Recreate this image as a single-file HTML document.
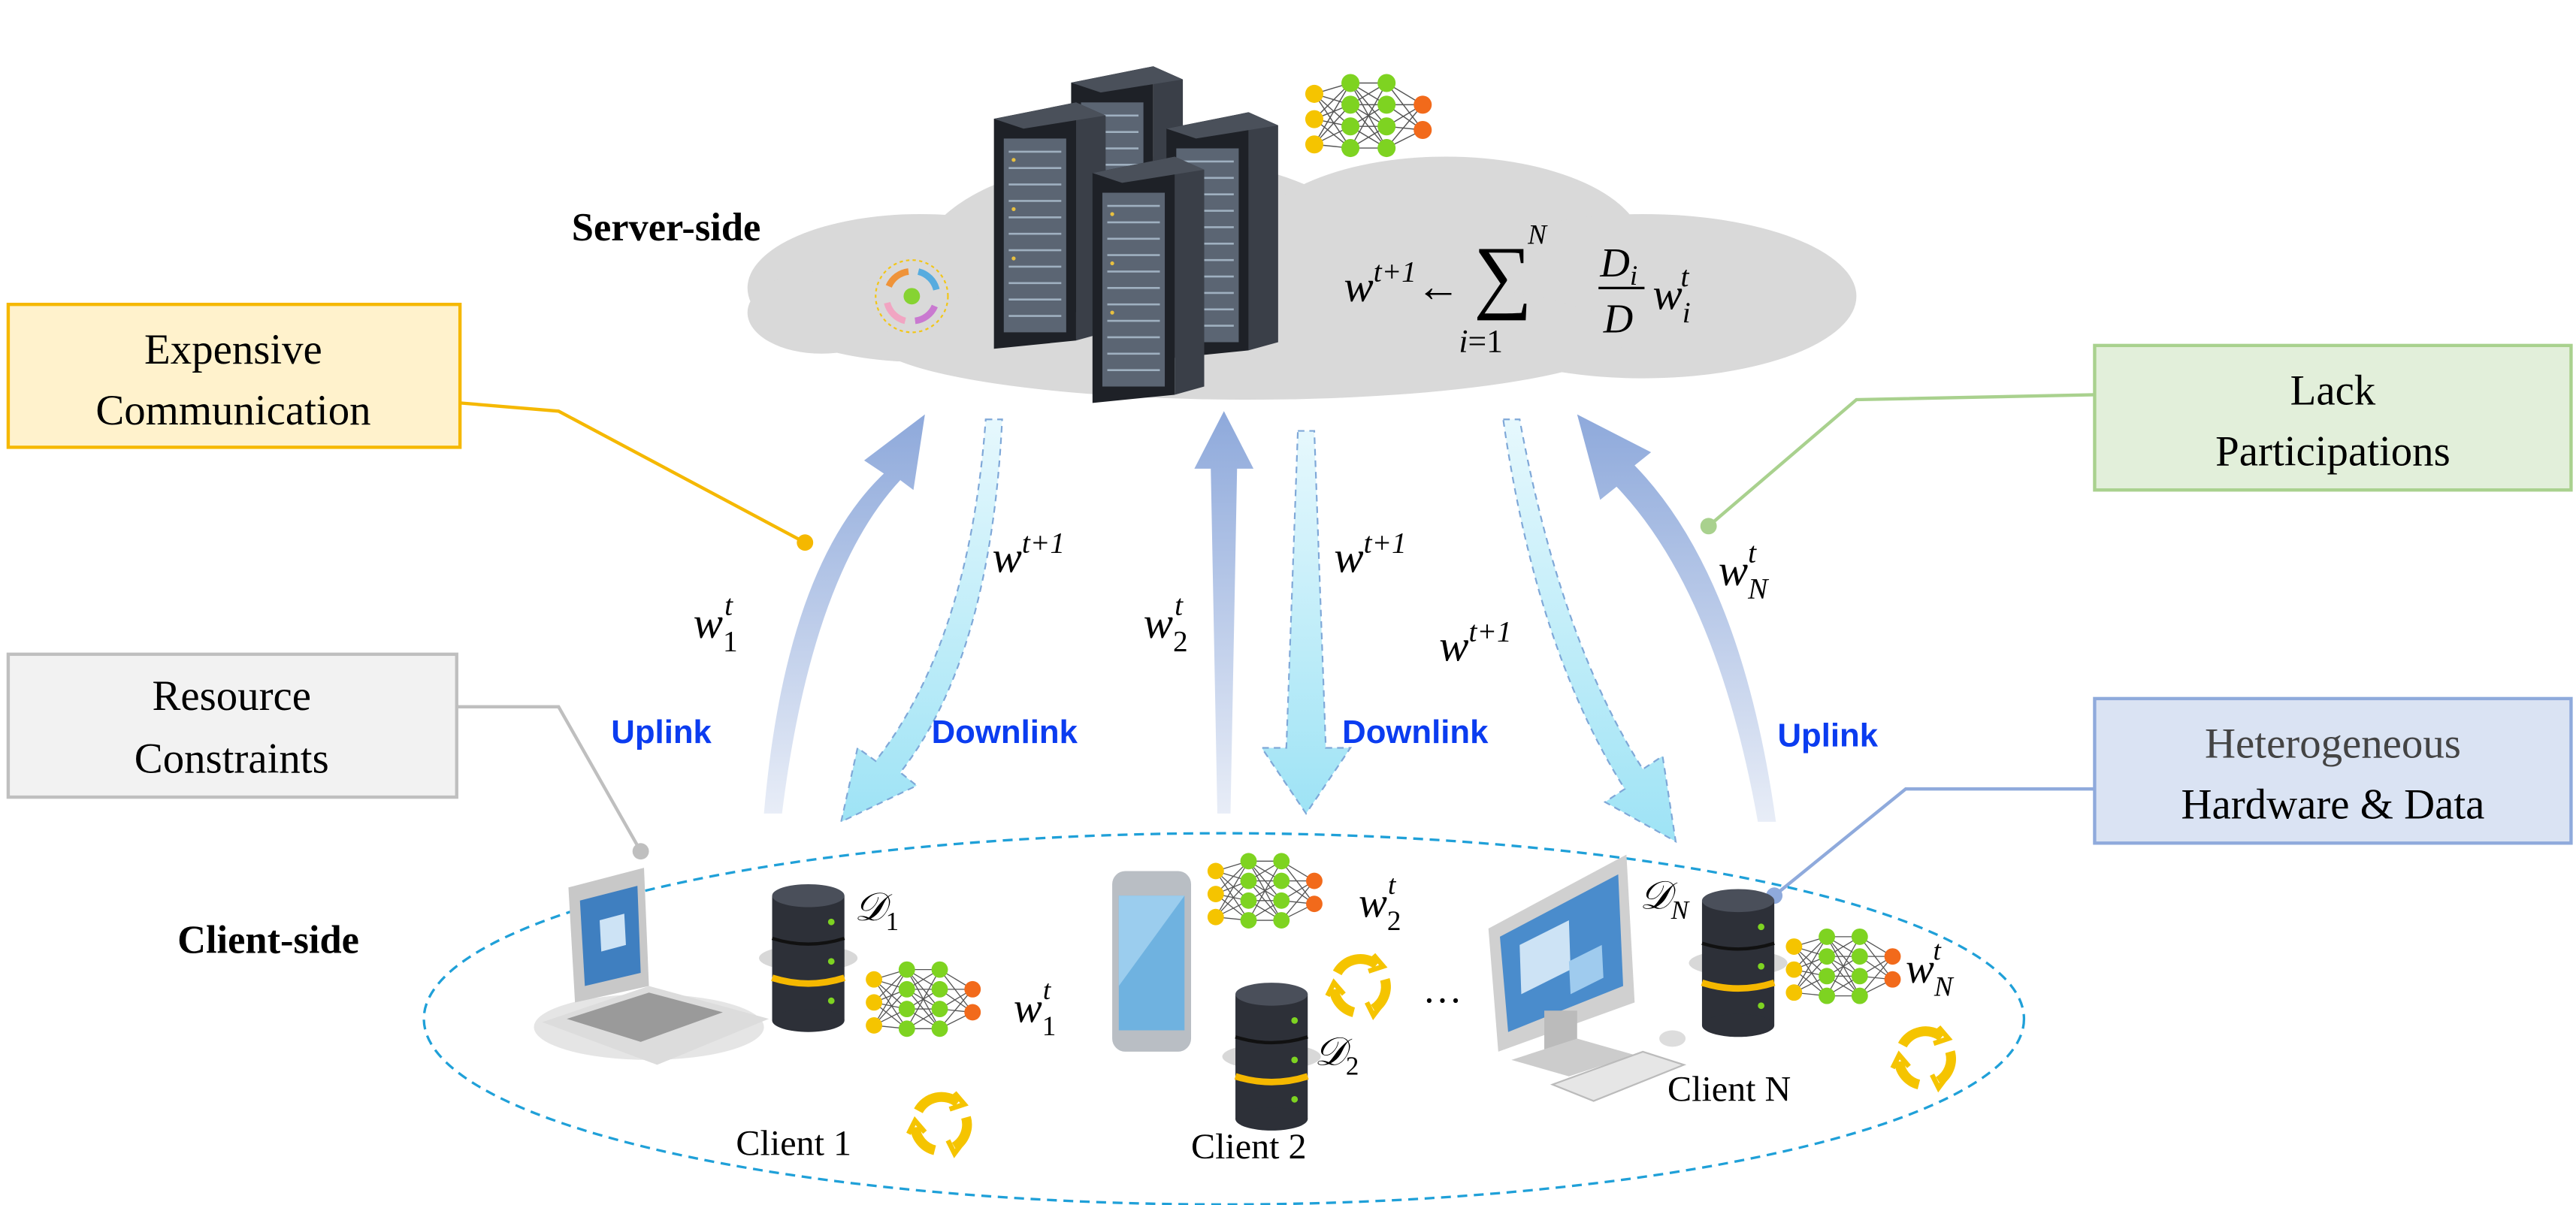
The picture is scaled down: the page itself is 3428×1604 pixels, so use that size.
<!DOCTYPE html>
<html><head><meta charset="utf-8"><style>
html,body{margin:0;padding:0;background:#fff;}
svg{display:block;}
.serif{font-family:"Liberation Serif",serif;}
.sans{font-family:"Liberation Sans",sans-serif;}
</style></head><body>
<svg width="3428" height="1604" viewBox="0 0 1568 733" xmlns="http://www.w3.org/2000/svg">
<defs>
<g id="nn">
  <g stroke="#555" stroke-width="0.6">
    <path d="M0,8 L20,2 M0,8 L20,14 M0,8 L20,26 M0,8 L20,38 M0,22 L20,2 M0,22 L20,14 M0,22 L20,26 M0,22 L20,38 M0,36 L20,2 M0,36 L20,14 M0,36 L20,26 M0,36 L20,38"/>
    <path d="M20,2 L40,2 M20,2 L40,14 M20,2 L40,26 M20,14 L40,2 M20,14 L40,14 M20,14 L40,26 M20,14 L40,38 M20,26 L40,14 M20,26 L40,26 M20,26 L40,38 M20,38 L40,26 M20,38 L40,38 M20,2 L40,38 M20,38 L40,2"/>
    <path d="M40,2 L60,14 M40,14 L60,14 M40,26 L60,14 M40,38 L60,14 M40,2 L60,28 M40,14 L60,28 M40,26 L60,28 M40,38 L60,28"/>
  </g>
  <g fill="#f5c400"><circle cx="0" cy="8" r="5"/><circle cx="0" cy="22" r="5"/><circle cx="0" cy="36" r="5"/></g>
  <g fill="#7ed321"><circle cx="20" cy="2" r="5"/><circle cx="20" cy="14" r="5"/><circle cx="20" cy="26" r="5"/><circle cx="20" cy="38" r="5"/>
  <circle cx="40" cy="2" r="5"/><circle cx="40" cy="14" r="5"/><circle cx="40" cy="26" r="5"/><circle cx="40" cy="38" r="5"/></g>
  <g fill="#f26a1b"><circle cx="60" cy="14" r="5"/><circle cx="60" cy="28" r="5"/></g>
</g>
<g id="db">
  <ellipse cx="0" cy="38" rx="30" ry="8" fill="#d8d8d8"/>
  <rect x="-22" y="0" width="44" height="76" fill="#2d3038"/>
  <ellipse cx="0" cy="0" rx="22" ry="7" fill="#4a4f5a"/>
  <path d="M-22,26 Q0,33 22,26" stroke="#111" stroke-width="2" fill="none"/>
  <path d="M-22,50 Q0,57 22,50" stroke="#f5b800" stroke-width="4" fill="none"/>
  <ellipse cx="0" cy="76" rx="22" ry="7" fill="#2d3038"/>
  <circle cx="14" cy="16" r="2" fill="#7ed321"/><circle cx="14" cy="40" r="2" fill="#7ed321"/><circle cx="14" cy="64" r="2" fill="#7ed321"/>
</g>
<g id="cyc" fill="none" stroke="#f5c400" stroke-width="6">
  <path d="M-14,-8 A16,16 0 0 1 10,-13"/><path d="M15,-4 A16,16 0 0 1 8,14"/><path d="M-4,16 A16,16 0 0 1 -16,2"/>
  <path d="M8,-19 L14,-12 L5,-9" stroke-width="3"/><path d="M14,10 L8,18 L4,10" stroke-width="3"/><path d="M-20,6 L-16,-2 L-10,5" stroke-width="3"/>
</g>
<g id="rack">
  <path d="M0,10 L50,0 L50,145 L0,150 Z" fill="#1e2127"/>
  <path d="M50,0 L68,8 L68,140 L50,145 Z" fill="#3a3f48"/>
  <path d="M0,10 L50,0 L68,8 L18,16 Z" fill="#4a505a"/>
  <rect x="6" y="22" width="38" height="118" fill="#5b6573"/>
  <g stroke="#9fb0c0" stroke-width="1.2"><path d="M9,30 H41 M9,40 H41 M9,50 H41 M9,60 H41 M9,70 H41 M9,80 H41 M9,90 H41 M9,100 H41 M9,110 H41 M9,120 H41 M9,130 H41"/></g>
  <g fill="#e8c040"><circle cx="12" cy="35" r="1.2"/><circle cx="12" cy="65" r="1.2"/><circle cx="12" cy="95" r="1.2"/></g>
</g>
</defs>

<!-- cloud -->
<g fill="#d9d9d9">
<ellipse cx="560" cy="175" rx="105" ry="45"/>
<ellipse cx="700" cy="160" rx="140" ry="65"/>
<ellipse cx="880" cy="150" rx="120" ry="55"/>
<ellipse cx="1000" cy="180" rx="130" ry="50"/>
<ellipse cx="760" cy="205" rx="230" ry="38"/>
<ellipse cx="500" cy="190" rx="45" ry="25"/>
</g>
<g transform="translate(555,180)" opacity="0.9">
<circle r="22" fill="none" stroke="#f5c400" stroke-dasharray="2,2"/>
<path d="M-14,-6 A15,15 0 0 1 -2,-15" stroke="#f28c28" stroke-width="4" fill="none"/>
<path d="M4,-15 A15,15 0 0 1 15,-4" stroke="#4aa8e0" stroke-width="4" fill="none"/>
<path d="M14,6 A15,15 0 0 1 2,15" stroke="#c86fd0" stroke-width="4" fill="none"/>
<path d="M-4,15 A15,15 0 0 1 -15,4" stroke="#f4a0c0" stroke-width="4" fill="none"/>
<circle r="5" fill="#7ed321"/>
</g>
<!-- racks -->
<use href="#rack" x="652" y="40"/>
<use href="#rack" x="710" y="68"/>
<use href="#rack" x="605" y="62"/>
<use href="#rack" x="665" y="95"/>
<use href="#nn" transform="translate(800,48) scale(1.1)"/>

<text x="348" y="146" class="serif" font-size="24" font-weight="bold">Server-side</text>
<text x="818" y="183" class="serif" font-size="27" font-style="italic">w<tspan font-size="18" dy="-12">t+1</tspan></text>
<text x="862" y="183" class="serif" font-size="27">←</text>
<text x="897" y="184" class="serif" font-size="50">∑</text>
<text x="930" y="148" class="serif" font-size="17" font-style="italic">N</text>
<text x="888" y="214" class="serif" font-size="20" font-style="italic">i<tspan font-style="normal">=1</tspan></text>
<text x="974" y="168" class="serif" font-size="25" font-style="italic">D<tspan font-size="17" dy="5">i</tspan></text>
<line x1="973" y1="175" x2="1001" y2="175" stroke="#000" stroke-width="1.5"/>
<text x="976" y="202" class="serif" font-size="25" font-style="italic">D</text>
<text x="1006" y="188" class="serif" font-size="27" font-style="italic">w<tspan font-size="18" dy="8">i</tspan><tspan font-size="18" dx="-6" dy="-22">t</tspan></text>

<!-- boxes -->
<rect x="5" y="185" width="275" height="87" fill="#fff2cc" stroke="#f5b800" stroke-width="2"/>
<text x="142" y="221" class="serif" font-size="26" text-anchor="middle">Expensive</text>
<text x="142" y="258" class="serif" font-size="26" text-anchor="middle">Communication</text>
<rect x="1275" y="210" width="290" height="88" fill="#e2efda" stroke="#a9d18e" stroke-width="2"/>
<text x="1420" y="246" class="serif" font-size="26" text-anchor="middle">Lack</text>
<text x="1420" y="283" class="serif" font-size="26" text-anchor="middle">Participations</text>
<rect x="5" y="398" width="273" height="87" fill="#f2f2f2" stroke="#bfbfbf" stroke-width="2"/>
<text x="141" y="432" class="serif" font-size="26" text-anchor="middle">Resource</text>
<text x="141" y="470" class="serif" font-size="26" text-anchor="middle">Constraints</text>
<rect x="1275" y="425" width="290" height="88" fill="#dae3f3" stroke="#8faadc" stroke-width="2"/>
<text x="1420" y="461" class="serif" font-size="26" text-anchor="middle" fill="#444">Heterogeneous</text>
<text x="1420" y="498" class="serif" font-size="26" text-anchor="middle">Hardware &amp; Data</text>

<!-- leader lines -->
<polyline points="280,245 340,250 490,330" fill="none" stroke="#f5b800" stroke-width="2"/><circle cx="490" cy="330" r="5" fill="#f5b800"/>
<polyline points="1275,240 1130,243 1040,320" fill="none" stroke="#a9d18e" stroke-width="2"/><circle cx="1040" cy="320" r="5" fill="#a9d18e"/>
<polyline points="278,430 340,430 390,518" fill="none" stroke="#bfbfbf" stroke-width="2"/><circle cx="390" cy="518" r="5" fill="#bfbfbf"/>
<polyline points="1275,480 1160,480 1080,545" fill="none" stroke="#8faadc" stroke-width="2"/><circle cx="1080" cy="545" r="5" fill="#8faadc"/>

<!-- ellipse -->
<ellipse cx="745" cy="620" rx="487" ry="113" fill="none" stroke="#1fa0d8" stroke-width="1.5" stroke-dasharray="6,4"/>

<!-- arrows -->
<defs>
<linearGradient id="up" x1="0" y1="1" x2="0" y2="0"><stop offset="0" stop-color="#e8edf7"/><stop offset="1" stop-color="#8ea9db"/></linearGradient>
<linearGradient id="dn" x1="0" y1="0" x2="0" y2="1"><stop offset="0" stop-color="#e6f8fd"/><stop offset="1" stop-color="#9ee3f5"/></linearGradient>
</defs>
<path d="M465,495 Q478,345 538,288 L526,280 L563,252 L556,298 L548,292 Q494,350 476,495 Z" fill="url(#up)"/>
<path d="M600,255 L610,255 Q603,400 548,470 L558,478 L512,500 L522,455 L533,463 Q590,390 600,255 Z" fill="url(#dn)" stroke="#7fa8d8" stroke-dasharray="4,3"/>
<path d="M741,495 L737,285 L727,285 L745,250 L763,285 L753,285 L749,495 Z" fill="url(#up)"/>
<path d="M790,262 L800,262 L807,455 L822,455 L795,495 L768,455 L783,455 Z" fill="url(#dn)" stroke="#7fa8d8" stroke-dasharray="4,3"/>
<path d="M915,255 L925,255 Q950,390 1000,468 L1012,460 L1020,512 L977,488 L989,480 Q935,395 915,255 Z" fill="url(#dn)" stroke="#7fa8d8" stroke-dasharray="4,3"/>
<path d="M1070,500 Q1045,360 984,296 L974,304 L960,252 L1005,275 L995,283 Q1060,350 1081,500 Z" fill="url(#up)"/>

<g class="sans" font-size="20" font-weight="bold" fill="#0b3cf0">
<text x="372" y="452">Uplink</text><text x="567" y="452">Downlink</text><text x="817" y="452">Downlink</text><text x="1082" y="454">Uplink</text>
</g>
<g class="serif" font-size="27" font-style="italic">
<text x="422" y="388">w<tspan font-size="18" dy="8" font-style="normal">1</tspan><tspan font-size="18" dx="-8" dy="-22">t</tspan></text>
<text x="604" y="348">w<tspan font-size="18" dy="-12">t+1</tspan></text>
<text x="696" y="388">w<tspan font-size="18" dy="8" font-style="normal">2</tspan><tspan font-size="18" dx="-8" dy="-22">t</tspan></text>
<text x="812" y="348">w<tspan font-size="18" dy="-12">t+1</tspan></text>
<text x="876" y="402">w<tspan font-size="18" dy="-12">t+1</tspan></text>
<text x="1046" y="356">w<tspan font-size="18" dy="8">N</tspan><tspan font-size="18" dx="-12" dy="-22">t</tspan></text>
</g>

<text x="108" y="580" class="serif" font-size="24" font-weight="bold">Client-side</text>

<!-- laptop -->
<ellipse cx="395" cy="625" rx="70" ry="20" fill="#e5e5e5"/>
<path d="M346,540 L392,528 L395,600 L350,610 Z" fill="#c8c8c8"/>
<path d="M353,548 L388,539 L390,592 L356,600 Z" fill="#3f7fc0"/>
<path d="M365,560 L380,556 L381,575 L366,579 Z" fill="#cde3f5"/>
<path d="M330,622 L395,600 L468,620 L400,648 Z" fill="#dcdcdc"/>
<path d="M345,620 L395,604 L440,616 L390,634 Z" fill="#9a9a9a"/>
<use href="#db" x="492" y="545"/>
<text x="520" y="560" class="serif" font-size="24" font-style="italic">𝒟<tspan font-size="16" dy="6" font-style="normal">1</tspan></text>
<use href="#nn" x="532" y="588"/>
<text x="617" y="622" class="serif" font-size="26" font-style="italic">w<tspan font-size="17" dy="8" font-style="normal">1</tspan><tspan font-size="17" dx="-8" dy="-22">t</tspan></text>
<text x="448" y="703" class="serif" font-size="22">Client 1</text>
<use href="#cyc" x="573" y="684"/>

<!-- phone -->
<rect x="677" y="530" width="48" height="110" rx="8" fill="#b9bec4"/>
<rect x="681" y="545" width="40" height="82" fill="#6fb2e0"/>
<path d="M681,545 L721,545 L681,600 Z" fill="#9bcdee"/>
<use href="#nn" x="740" y="522"/>
<text x="827" y="558" class="serif" font-size="26" font-style="italic">w<tspan font-size="17" dy="8" font-style="normal">2</tspan><tspan font-size="17" dx="-8" dy="-22">t</tspan></text>
<use href="#cyc" x="828" y="600"/>
<use href="#db" x="774" y="605"/>
<text x="800" y="648" class="serif" font-size="24" font-style="italic">𝒟<tspan font-size="16" dy="6" font-style="normal">2</tspan></text>
<text x="725" y="705" class="serif" font-size="22">Client 2</text>
<text x="866" y="610" class="serif" font-size="24">…</text>

<!-- monitor -->
<path d="M906,565 L990,520 L995,610 L912,640 Z" fill="#d0d0d0"/>
<path d="M913,570 L985,532 L988,600 L918,628 Z" fill="#4a8ccc"/>
<path d="M925,575 L955,560 L956,590 L926,605 Z" fill="#cde3f5"/>
<path d="M955,585 L975,575 L976,595 L956,605 Z" fill="#9fcbee"/>
<rect x="940" y="615" width="20" height="25" fill="#bbb"/>
<path d="M920,645 L960,632 L995,642 L955,655 Z" fill="#ccc"/>
<path d="M945,660 L1000,640 L1025,648 L970,670 Z" fill="#e6e6e6" stroke="#bbb"/>
<ellipse cx="1018" cy="632" rx="8" ry="5" fill="#ddd"/>
<text x="998" y="553" class="serif" font-size="24" font-style="italic">𝒟<tspan font-size="16" dy="6">N</tspan></text>
<use href="#db" x="1058" y="548"/>
<use href="#nn" x="1092" y="568"/>
<text x="1160" y="598" class="serif" font-size="26" font-style="italic">w<tspan font-size="17" dy="8">N</tspan><tspan font-size="17" dx="-12" dy="-22">t</tspan></text>
<use href="#cyc" x="1172" y="644"/>
<text x="1015" y="670" class="serif" font-size="22">Client N</text>
</svg>
</body></html>
